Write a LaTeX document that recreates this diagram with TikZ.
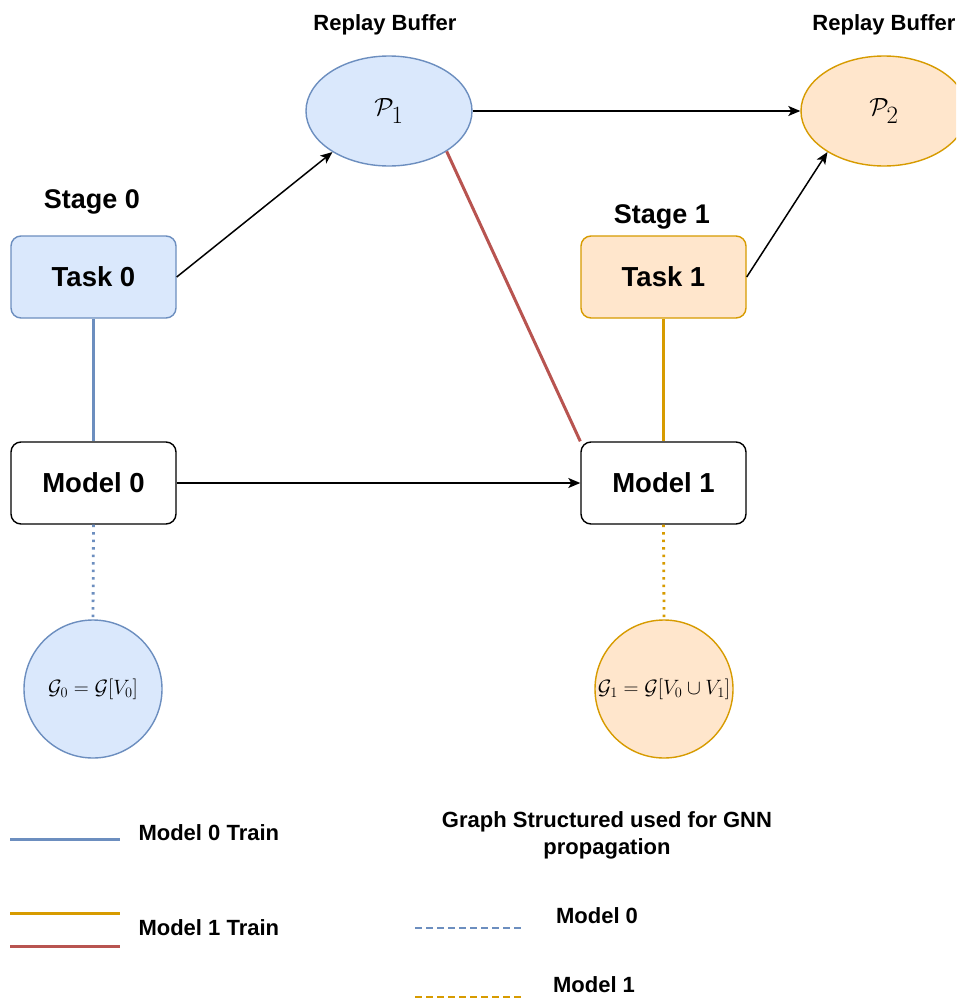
\documentclass[tikz,border=0pt]{standalone}
\usepackage{fontspec}
\setmainfont{Liberation Sans}
\usetikzlibrary{shapes.geometric,arrows.meta}
\definecolor{bfill}{HTML}{DAE8FC}
\definecolor{bline}{HTML}{6C8EBF}
\definecolor{ofill}{HTML}{FFE6CC}
\definecolor{oline}{HTML}{D79B00}
\definecolor{rline}{HTML}{B85450}
\tikzset{
  box/.style={draw, rounded corners=10pt, minimum width=165pt, minimum height=82pt, inner sep=0pt, line width=1.4pt, font=\fontsize{27.5}{32}\selectfont\bfseries},
  bluebox/.style={box, draw=bline, fill=bfill},
  orangebox/.style={box, draw=oline, fill=ofill},
  buf/.style={ellipse, minimum width=166pt, minimum height=110pt, inner sep=0pt, line width=1.4pt, font=\fontsize{33}{38}\selectfont},
  gcirc/.style={circle, minimum size=138pt, inner sep=0pt, line width=1.4pt, font=\fontsize{20.5}{24}\selectfont},
  title/.style={font=\fontsize{27}{32}\selectfont\bfseries},
  small/.style={font=\fontsize{22}{27}\selectfont\bfseries},
  arr/.style={-{Stealth[length=12pt,width=10pt,inset=3pt]}, line width=1.5pt},
  trainb/.style={draw=bline, line width=3pt},
  traino/.style={draw=oline, line width=3pt},
  trainr/.style={draw=rline, line width=3pt},
  dotb/.style={draw=bline, line width=2.8pt, dash pattern=on 2.5pt off 5pt},
  doto/.style={draw=oline, line width=2.8pt, dash pattern=on 2.5pt off 5pt},
  dashb/.style={draw=bline, line width=2.8pt, dash pattern=on 6.5pt off 4.5pt},
  dasho/.style={draw=oline, line width=2.8pt, dash pattern=on 6.5pt off 4.5pt},
}
\begin{document}
\begin{tikzpicture}[x=1pt, y=-1pt]
\clip (0,0) rectangle (956,1001);
\fill[white] (0,0) rectangle (956,1001);

% titles
\node[small] (rb1) at (385,25) {Replay Buffer};
\node[small] (rb2) at (884,25) {Replay Buffer};
\node[title] (s0) at (92,202) {Stage 0};
\node[title] (s1) at (662,217) {Stage 1};

% buffers
\node[buf, draw=bline, fill=bfill] (p1) at (389,111) {$\mathcal{P}_1$};
\node[buf, draw=oline, fill=ofill] (p2) at (884,111) {$\mathcal{P}_2$};

% tasks and models
\node[bluebox] (t0) at (93.5,277) {Task 0};
\node[orangebox] (t1) at (663.5,277) {Task 1};
\node[box, draw=black] (m0) at (93.5,483) {Model 0};
\node[box, draw=black] (m1) at (663.5,483) {Model 1};

% graph circles
\node[gcirc, draw=bline, fill=bfill] (g0) at (93,689) {$\mathcal{G}_0=\mathcal{G}[V_0]$};
\node[gcirc, draw=oline, fill=ofill] (g1) at (664,689) {$\mathcal{G}_1=\mathcal{G}[V_0\cup V_1]$};

% connectors
\draw[arr] (t0.east) -- (p1.216);
\draw[arr] (p1.east) -- (p2.west);
\draw[arr] (t1.east) -- (p2.216);
\draw[arr] (m0.east) -- (m1.west);
\draw[trainb] (t0.south) -- (m0.north);
\draw[traino] (t1.south) -- (m1.north);
\draw[trainr] (p1.325) -- (m1.north west);
\draw[dotb] (m0.south) -- (g0.north);
\draw[doto] (m1.south) -- (g1.north);

% legend
\coordinate (lb1) at (10,839); \coordinate (lb2) at (120,839);
\coordinate (lo1) at (10,913); \coordinate (lo2) at (120,913);
\coordinate (lr1) at (10,946); \coordinate (lr2) at (120,946);
\coordinate (db1) at (415,928); \coordinate (db2) at (523,928);
\coordinate (do1) at (415,997); \coordinate (do2) at (523,997);
\draw[trainb] (lb1) -- (lb2);
\draw[traino] (lo1) -- (lo2);
\draw[trainr] (lr1) -- (lr2);
\draw[dashb] (db1) -- (db2);
\draw[dasho] (do1) -- (do2);
\node[small, anchor=west] (l0) at (135,833) {Model 0 Train};
\node[small, anchor=west] (l1) at (135,928) {Model 1 Train};
\node[small, align=center] (lg) at (607,835) {Graph Structured used for GNN\\propagation};
\node[small] (lm0) at (597,916) {Model 0};
\node[small] (lm1) at (594,985) {Model 1};
\end{tikzpicture}
\end{document}
